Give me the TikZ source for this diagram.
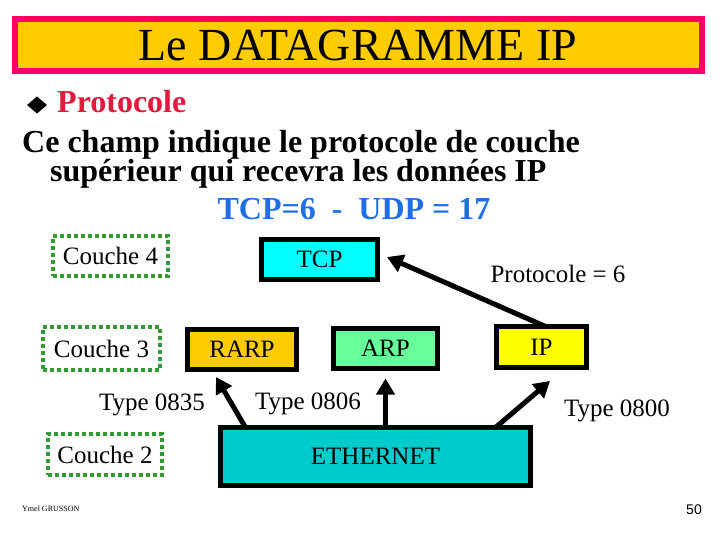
\documentclass[tikz,border=0pt]{standalone}
\usepackage{xcolor}
\usepackage{fontspec}
\setmainfont{Liberation Serif}
\newfontfamily\pagefont{Liberation Sans}
\usepackage{tikz}
\usetikzlibrary{arrows.meta,positioning}

\definecolor{titlepink}{RGB}{255,0,102}
\definecolor{titlegold}{RGB}{255,204,0}
\definecolor{protored}{RGB}{226,26,60}
\definecolor{valblue}{RGB}{30,110,230}
\definecolor{tcpcyan}{RGB}{0,255,255}
\definecolor{arpgreen}{RGB}{102,255,153}
\definecolor{ipyellow}{RGB}{255,255,0}
\definecolor{ethcyan}{RGB}{0,204,204}
\definecolor{couchegreen}{RGB}{51,153,51}

\begin{document}
\begin{tikzpicture}[x=1pt, y=-1pt,
    lbl/.style={font=\fontsize{25}{25}\selectfont, inner sep=0pt, anchor=base},
    txt/.style={font=\bfseries\fontsize{32}{32}\selectfont, inner sep=0pt, anchor=base west},
    proto/.style={rectangle, draw, line width=5pt, outer sep=0pt, inner sep=0pt, font=\fontsize{25}{25}\selectfont},
    couche/.style={rectangle, draw=couchegreen, line width=4pt, dash pattern=on 4pt off 3pt, inner sep=0pt, font=\fontsize{25}{25}\selectfont},
    fleche/.style={line width=5pt, -{Triangle[length=16pt,width=18pt]}}]

    \useasboundingbox (0,0) rectangle (720,540);

    % titre
    \node[draw=titlepink, fill=titlegold, line width=6pt, minimum width=687pt, minimum height=52pt, inner sep=0pt,
          font=\fontsize{46}{46}\selectfont] (titre) at (358,45) {Le DATAGRAMME IP};

    % texte
    \fill (27,105) -- (37,96.5) -- (47,105) -- (37,113.5) -- cycle;
    \node[txt, text=protored] (puce) at (57,113) {Protocole};
    \node[txt] (ligne1) at (22,153) {Ce champ indique le protocole de couche};
    \node[txt] (ligne2) at (50,182) {supérieur qui recevra les données IP};
    \node[txt, anchor=base, text=valblue] (valeurs) at (354,220) {TCP=6 \ -\ \ UDP = 17};

    % couches
    \node[couche, minimum width=115pt, minimum height=40pt] (c4) at (110.5,256) {Couche 4};
    \node[couche, minimum width=117pt, minimum height=43pt] (c3) at (101.5,348.5) {Couche 3};
    \node[couche, minimum width=114pt, minimum height=41pt] (c2) at (105,454.5) {Couche 2};

    % protocoles
    \node[proto, fill=tcpcyan, minimum width=116pt, minimum height=40pt] (tcp) at (319.5,259.5) {TCP};
    \node[proto, fill=titlegold, minimum width=109pt, minimum height=40pt] (rarp) at (242,349.5) {RARP};
    \node[proto, fill=arpgreen, minimum width=104pt, minimum height=40pt] (arp) at (385.5,348.5) {ARP};
    \node[proto, fill=ipyellow, minimum width=90pt, minimum height=41pt] (ip) at (541.5,347) {IP};
    \node[proto, fill=ethcyan, minimum width=310pt, minimum height=58pt] (eth) at (375.5,456.5) {ETHERNET};

    \node[lbl] (p6) at (558,282) {Protocole = 6};
    \node[lbl] (t835) at (152,410) {Type 0835};
    \node[lbl] (t806) at (308,409) {Type 0806};
    \node[lbl] (t800) at (617,416) {Type 0800};

    \draw[fleche] ([xshift=4pt]ip.north) -- ([xshift=9.5pt,yshift=2.5pt]tcp.east);
    \draw[fleche] ([xshift=25pt]eth.north west) -- ([xshift=-26pt,yshift=-7.5pt]rarp.south);
    \draw[fleche] (eth.north -| arp.south) -- ([yshift=-10pt]arp.south);
    \draw[fleche] ([xshift=-35pt]eth.north east) -- ([xshift=8.5pt,yshift=-13.5pt]ip.south);

    % pied de page
    \node[font=\fontsize{8}{8}\selectfont, anchor=west, inner sep=0pt] (auteur) at (22,509) {Ymel GRUSSON};
    \node[font=\pagefont\fontsize{14}{14}\selectfont, inner sep=0pt] (page) at (694,510) {50};

\end{tikzpicture}
\end{document}
